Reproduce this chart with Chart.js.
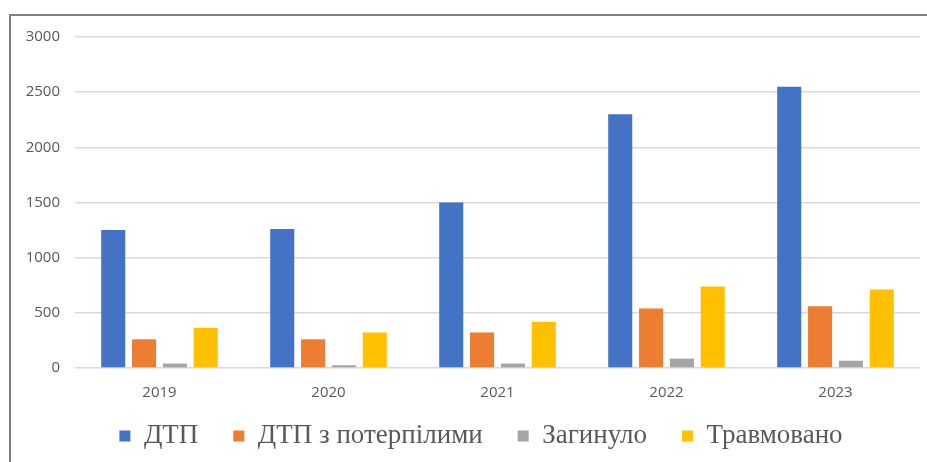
<!DOCTYPE html>
<html lang="uk">
<head>
<meta charset="utf-8">
<title>ДТП 2019-2023</title>
<script src="https://cdn.jsdelivr.net/npm/chart.js@4/dist/chart.umd.min.js"></script>
<style>
  html, body { margin: 0; padding: 0; background: #ffffff; }
  #wrap { position: relative; width: 927px; height: 462px; overflow: hidden; }
  #frame {
    position: absolute; left: 9px; top: 14px; right: -10px; bottom: -10px;
    border-left: 2px solid #7f7f7f; border-top: 2px solid #7f7f7f;
    pointer-events: none;
  }
  #myChart { position: absolute; left: 0; top: 0; }
</style>
</head>
<body>
<div id="wrap">
  <div id="frame"></div>
  <canvas id="myChart" width="927" height="462"></canvas>
</div>
<script>
// data dari gambar (perkiraan)
const years = ["2019", "2020", "2021", "2022", "2023"];
const dtp = [1250, 1260, 1500, 2300, 2550];
const dtpInjured = [260, 260, 322, 540, 560];
const killed = [40, 25, 40, 85, 66];
const injured = [365, 322, 420, 738, 711];
const yTicks = [0, 500, 1000, 1500, 2000, 2500, 3000];

// legend: tinggi kotak diperkecil, lalu digeser ke posisi seperti gambar asli
const legendTweak = {
  id: "legendTweak",
  beforeLayout(chart) {
    const lg = chart.legend;
    if (lg && !lg._fitPatched) {
      const baseFit = Object.getPrototypeOf(lg).fit;
      lg.fit = function () {
        baseFit.call(this);
        this.height = 40;
      };
      lg._fitPatched = true;
    }
  },
  afterLayout(chart) {
    const lg = chart.legend;
    if (!lg) return;
    lg.left += 21;
    lg.right += 21;
    lg.top -= 34.5; // bottom tetap, supaya area clip tidak memotong teks
  },
};

document.addEventListener("DOMContentLoaded", function () {
  const ctx = document.getElementById("myChart");

  const mkSet = (label, data, color) => ({
    label: label,
    data: data,
    backgroundColor: color,
    borderWidth: 0,
    categoryPercentage: 0.73,
    barPercentage: 0.78,
  });

  new Chart(ctx, {
    type: "bar",
    data: {
      labels: years,
      datasets: [
        mkSet("ДТП", dtp, "#4472c4"),
        mkSet("ДТП з потерпілими", dtpInjured, "#ed7d31"),
        mkSet("Загинуло", killed, "#a5a5a5"),
        mkSet("Травмовано", injured, "#ffc000"),
      ],
    },
    plugins: [legendTweak],
    options: {
      responsive: false,
      animation: false,
      layout: { padding: { left: 0, right: 7, top: 37, bottom: 0 } },
      scales: {
        x: {
          grid: { display: false, drawTicks: false },
          border: { display: false },
          ticks: { color: "#595959", padding: 16, font: { family: "Open Sans", size: 15 } },
          afterFit: function (scale) { scale.height = 54; },
        },
        y: {
          min: yTicks[0],
          max: yTicks[yTicks.length - 1],
          afterBuildTicks: function (scale) {
            scale.ticks = yTicks.map(v => ({ value: v }));
          },
          grid: { color: "#d9d9d9", lineWidth: 1.5, drawTicks: false },
          border: { display: false },
          ticks: {
            color: "#595959",
            padding: 15,
            font: { family: "Open Sans", size: 15 },
            callback: function (value) { return String(value); },
          },
          afterFit: function (scale) { scale.width = 75; },
        },
      },
      plugins: {
        legend: {
          position: "bottom",
          labels: {
            color: "#595959",
            boxWidth: 11,
            boxHeight: 11,
            padding: 35,
            font: { family: "Liberation Serif", size: 27 },
          },
        },
        tooltip: { enabled: false },
      },
    },
  });
});
</script>
</body>
</html>
